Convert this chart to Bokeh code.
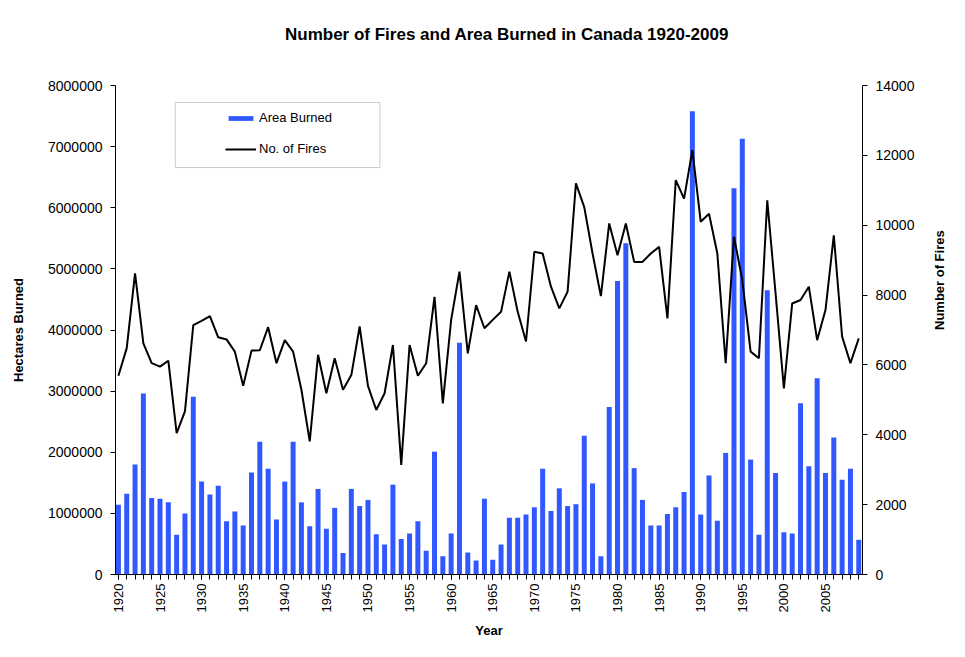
import math
from bokeh.plotting import figure
from bokeh.layouts import column
from bokeh.models import (Range1d, LinearAxis, FixedTicker, Legend, LegendItem,
                          BoxAnnotation, Div, NumeralTickFormatter, ColumnDataSource)
from bokeh.embed import file_html
from bokeh.resources import INLINE

years = list(range(1920, 2010))

area_burned = [
    1140000, 1320000, 1800000, 2960000, 1250000, 1240000, 1180000, 650000, 1000000, 2910000,
    1520000, 1310000, 1450000, 870000, 1030000, 800000, 1670000, 2170000, 1730000, 900000,
    1520000, 2170000, 1180000, 790000, 1400000, 750000, 1090000, 350000, 1400000, 1120000,
    1220000, 660000, 490000, 1470000, 580000, 670000, 870000, 390000, 2010000, 300000,
    670000, 3790000, 360000, 230000, 1240000, 240000, 490000, 930000, 930000, 980000,
    1100000, 1730000, 1040000, 1410000, 1120000, 1150000, 2270000, 1490000, 300000, 2740000,
    4800000, 5420000, 1740000, 1220000, 800000, 800000, 990000, 1100000, 1350000, 7580000,
    980000, 1620000, 880000, 1990000, 6320000, 7130000, 1880000, 650000, 4650000, 1660000,
    690000, 670000, 2800000, 1770000, 3210000, 1660000, 2240000, 1550000, 1730000, 570000,
]

num_fires = [
    5690, 6480, 8620, 6620, 6050, 5950, 6120, 4050, 4670, 7140,
    7260, 7400, 6790, 6730, 6380, 5400, 6410, 6420, 7080, 6050,
    6710, 6380, 5290, 3810, 6290, 5190, 6190, 5290, 5710, 7100,
    5400, 4710, 5190, 6570, 3140, 6570, 5690, 6050, 7950, 4900,
    7290, 8670, 6330, 7710, 7050, 7290, 7520, 8670, 7520, 6670,
    9240, 9190, 8240, 7620, 8100, 11200, 10520, 9190, 7970, 10050,
    9140, 10050, 8950, 8950, 9190, 9380, 7330, 11290, 10760, 12150,
    10100, 10330, 9190, 6050, 9670, 8430, 6380, 6190, 10710, 8050,
    5330, 7760, 7860, 8240, 6710, 7570, 9710, 6810, 6050, 6760,
]

left_ticks = [0, 1000000, 2000000, 3000000, 4000000, 5000000, 6000000, 7000000, 8000000]
right_ticks = [0, 2000, 4000, 6000, 8000, 10000, 12000, 14000]
year_labels = list(range(1920, 2006, 5))

TITLE = "Number of Fires and Area Burned in Canada 1920-2009"
FONT = "Liberation Sans"
BLUE = "#3158ff"

src = ColumnDataSource(dict(year=years, area=area_burned, fires=num_fires))

title_div = Div(text=TITLE, width=470, height=20, margin=(25, 0, 0, 285),
                styles={"font-family": FONT, "font-size": "17px", "font-weight": "bold",
                        "color": "black", "white-space": "nowrap", "line-height": "20px"})

p = figure(width=957, height=604, output_backend="svg", toolbar_location=None,
           x_range=Range1d(1919.65, 2009.45), y_range=Range1d(0, 8000000),
           min_border_left=115, min_border_right=93, min_border_top=40, min_border_bottom=75,
           background_fill_color="white", border_fill_color="white")
p.outline_line_color = None
p.grid.visible = False

p.extra_y_ranges = {"fires": Range1d(0, 14000)}

bars = p.vbar(x="year", top="area", width=0.6, source=src, fill_color=BLUE, line_color=None)
line = p.line(x="year", y="fires", source=src, y_range_name="fires", line_color="black", line_width=2)

# x axis
xa = p.xaxis[0]
xa.ticker = FixedTicker(ticks=year_labels, minor_ticks=years)
xa.major_label_orientation = math.pi / 2
xa.axis_label = "Year"

# left axis
ya = p.yaxis[0]
ya.ticker = FixedTicker(ticks=left_ticks)
ya.formatter = NumeralTickFormatter(format="0")
ya.axis_label = "Hectares Burned"

# right axis
ra = LinearAxis(y_range_name="fires", ticker=FixedTicker(ticks=right_ticks),
                axis_label="Number of Fires")
p.add_layout(ra, "right")

for ax in [xa, ya, ra]:
    ax.axis_line_color = "black"
    ax.major_tick_line_color = "black"
    ax.minor_tick_line_color = "black"
    ax.major_tick_out = 5
    ax.major_tick_in = 0
    ax.minor_tick_out = 5
    ax.minor_tick_in = 0
    ax.major_label_text_font = FONT
    ax.major_label_text_font_size = "14px"
    ax.major_label_text_color = "black"
    ax.axis_label_text_font = FONT
    ax.axis_label_text_font_size = "13px"
    ax.axis_label_text_font_style = "bold"
    ax.axis_label_text_color = "black"
    ax.major_label_standoff = 8
for ax in [ya, ra]:
    ax.minor_tick_line_color = None
xa.major_label_text_font_size = "13px"
ya.axis_label_standoff = 19
ra.axis_label_standoff = 22
ra.axis_label_orientation = math.pi / 2
xa.axis_label_standoff = 8
xa.major_label_standoff = 4

# legend frame
p.add_layout(BoxAnnotation(left=1926.84, right=1951.43, top=7722000, bottom=6658000,
                           fill_color="white", fill_alpha=1.0, line_color="#555555",
                           line_width=1, level="underlay"))

legend = Legend(items=[LegendItem(label="Area Burned", renderers=[bars]),
                       LegendItem(label="No. of Fires", renderers=[line])],
                location=(110, 418), border_line_color=None, background_fill_alpha=0,
                padding=0, spacing=16, glyph_width=31, glyph_height=6, label_height=14,
                label_standoff=3, label_text_font=FONT, label_text_font_size="13px",
                label_text_color="black")
p.add_layout(legend)

layout = column(title_div, p, spacing=0)

open("out.html", "w").write(file_html(layout, INLINE))
